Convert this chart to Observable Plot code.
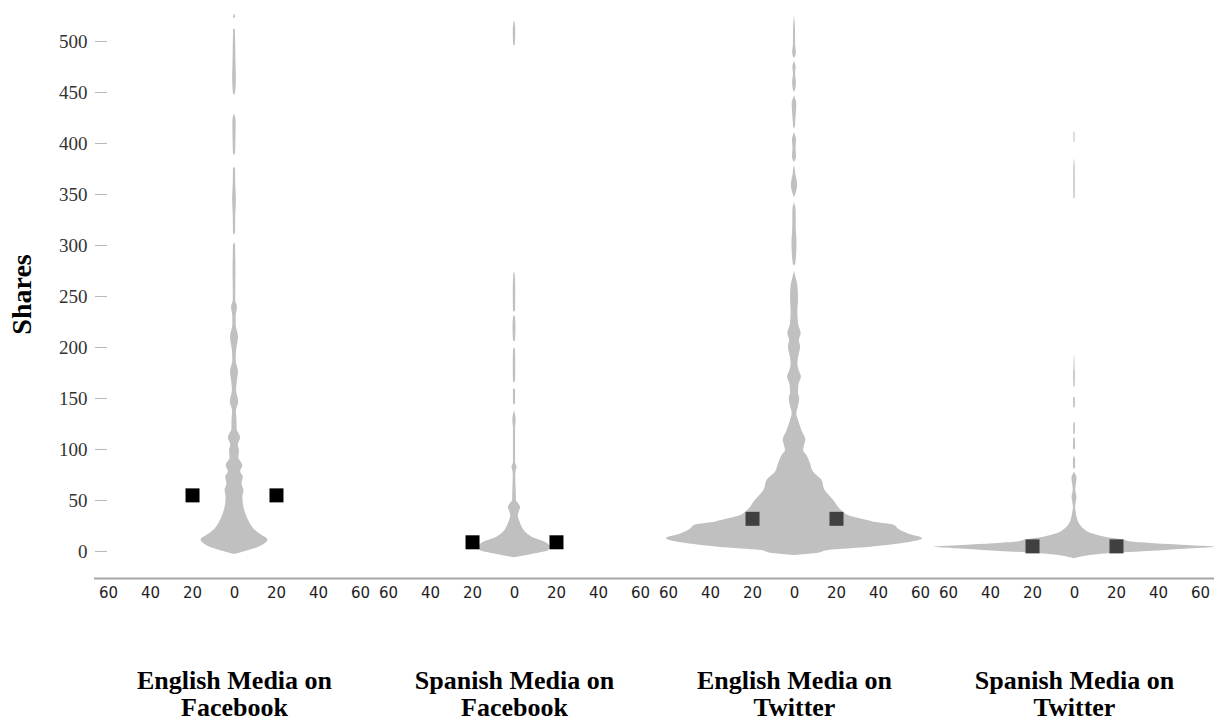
<!DOCTYPE html>
<html>
<head>
<meta charset="utf-8">
<script src="https://cdn.jsdelivr.net/npm/d3@7"></script>
<script src="https://cdn.jsdelivr.net/npm/@observablehq/plot@0.6"></script>
<style>
  html, body { margin: 0; padding: 0; background: #fff; }
  #chart { width: 1222px; height: 721px; overflow: hidden; }
</style>
</head>
<body>
<div id="chart"></div>
<script>
// ---- Data ----
const groups = [
  "English Media on Facebook",
  "Spanish Media on Facebook",
  "English Media on Twitter",
  "Spanish Media on Twitter"
];
const groupLabels = [
  "English Media on\nFacebook",
  "Spanish Media on\nFacebook",
  "English Media on\nTwitter",
  "Spanish Media on\nTwitter"
];
const yTicks = [0, 50, 100, 150, 200, 250, 300, 350, 400, 450, 500];
const xTicks = [-60, -40, -20, 0, 20, 40, 60];
const meanShares = [55, 9, 32, 5];
const squareX = [-20, 20];

// Violin profiles: shares level and half-width (count) at that level
const efShares = [-3,-1,1,4,7.5,11,13,15.7,20.6,27,33.6,43,53,60,66,73,78,84,92,99,104,111.5,120,128,138,146,158,166,176,187,197,210,222,230,239.5,246,260,275,290,300,303,310,312,330,345,360,375,377,388,390,405,420,427,429,447,449,465,480,495,511,513,522,524,527];
const efWidths = [0,3.6,6.9,11.4,14.5,15.9,15.4,13.2,10,7.6,6,4.5,4,4.5,3.6,4.2,2.9,4,2.1,2.4,1.8,2.9,1.2,1.2,0.9,2,1.0,1.3,1.9,0.8,1.0,1.9,0.8,0.8,1.4,0.6,0.6,0.7,0.6,0.5,0,0,0.5,0.6,0.9,0.6,0.5,0,0,0.5,0.7,0.8,0.4,0,0,0.5,0.9,0.7,0.6,0.4,0,0,0.5,0];

const sfShares = [-6.2,-2.3,1,4.2,6,9,14,19,24,30,35,39,43,47,50,60,73,78,82.6,87,100,121,128,135,138,143,145,158,160,165,167,180,197,200,205,207,220,229,232,234,236,255,272,274,495,497,510,518,520];
const sfWidths = [0,10,16.4,17.1,16.6,14.7,8.4,5.2,3.6,2.4,1.8,2.3,2.9,1.9,0.9,0.8,0.6,0.7,1.2,0.5,0.5,0.5,0.8,0.4,0,0,0.5,0.5,0,0,0.5,0.6,0.5,0,0,0.5,0.7,0.5,0,0,0.5,0.6,0.3,0,0,0.4,0.6,0.3,0];

const etShares = [-4,-2,1,4.2,7.5,12.4,17.3,22,25.5,28.8,30,35,40,50,60,70,77.7,86,94,99,104,109,118.6,128,135,143,150,155,163,171,178,184,192,200,207,213.5,223,236,246,259,268,272,275,279,282,302,320,334,340,342,346,350,359,370,376,378,381,383,387,395,403,409,411,414,416,422,439,445,447,450,452,460,468,475,479,481,483,485,489.5,497,504,515,525];
const etWidths = [0,10.4,16.2,36.3,50.9,61,54,49.5,47.8,37.4,35.3,26,22.5,18.7,14.5,13,9.1,7.6,5.9,4.3,4.8,5.4,3.5,2,1.1,2,2.5,1.9,2.1,3.3,2.1,1.6,2.1,2.9,2.3,3.2,1.9,1.6,1.9,1.7,0.8,0.3,0,0,0.6,1.2,0.8,0.8,0.3,0,0,0.6,1.5,0.6,0.3,0,0,0.5,1.0,0.7,1.0,0.3,0,0,0.4,0.6,1.1,0.3,0,0,0.5,0.9,0.5,0.8,0.3,0,0,0.5,0.9,0.5,0.5,0.4,0];

const stShares = [-7.2,-2.3,1,2.6,4.2,5.9,7.5,9.2,11.4,14,17.3,22,27,33.7,38.5,43,48,53,57,61,66,71.5,76,78,80,82,90,94,99,101,110,112,114,116,125,127,140,142,150,152,160,162,175,178,185,190,192,345,347,360,375,383,385,400,402,410,412];
const stWidths = [0,16.3,43.6,56,67,53,38.4,27.5,22.8,14.7,8.4,4.5,2.4,1.2,0.8,0.5,0.8,1.2,0.8,0.6,0.9,1.2,0.5,0,0,0.5,0.5,0,0,0.5,0.4,0,0,0.4,0.4,0,0,0.4,0.4,0,0,0.3,0.4,0.3,0.2,0.15,0,0,0.3,0.35,0.3,0.15,0,0,0.25,0.25,0];

const profileShares = [efShares, sfShares, etShares, stShares];
const profileWidths = [efWidths, sfWidths, etWidths, stWidths];

// ---- Tables built from the arrays ----
const violinRows = groups.flatMap((g, i) =>
  profileShares[i].map((s, j) => ({group: g, shares: s, width: profileWidths[i][j]}))
);
const meanRows = groups.flatMap((g, i) =>
  squareX.map(x => ({group: g, x, shares: meanShares[i]}))
);
const labelOf = new Map(groups.map((g, i) => [g, groupLabels[i]]));

const serif = "'Liberation Serif', 'Times New Roman', serif";
const sans = "'DejaVu Sans', Verdana, sans-serif";

const chart = Plot.plot({
  width: 1222,
  height: 721,
  marginLeft: 94,
  marginRight: 8,
  marginTop: 10,
  marginBottom: 143,
  style: {background: "#fff"},
  fx: {domain: groups, padding: 0},
  x: {domain: [-66.7, 66.7]},
  y: {domain: [-26.5, 530.4]},
  marks: [
    Plot.areaX(violinRows, {
      fx: "group", y: "shares", x1: d => -d.width, x2: "width",
      fill: "#c0c0c0", curve: "monotone-y"
    }),
    Plot.dot(meanRows, {
      fx: "group", x: "x", y: "shares", symbol: "square", r: 7.9,
      fill: d => d.group.endsWith("Twitter") ? "#404040" : "#000"
    }),
    Plot.ruleY([-26.5], {stroke: "#a6a6a6", strokeWidth: 2}),
    Plot.axisY({
      ticks: yTicks, tickSize: 12, dx: 13, tickPadding: 8,
      stroke: "#b8b8b8", fill: "#333", fontSize: 19,
      fontFamily: serif, label: null
    }),
    Plot.axisX({
      ticks: xTicks, tickFormat: d => Math.abs(d), tickSize: 0, tickPadding: 9,
      fontSize: 15, fontFamily: sans, fill: "#222", label: null
    }),
    Plot.axisFx({
      anchor: "bottom", tickSize: 0, tickPadding: 91,
      tickFormat: g => labelOf.get(g),
      fontSize: 26, fontWeight: "bold", fontFamily: serif, fill: "#000",
      lineHeight: 1.05, label: null
    }),
    Plot.text([groups[0]], {
      fx: d => d, text: () => "Shares", frameAnchor: "left", dx: -72, rotate: -90,
      textAnchor: "middle",
      fontSize: 28, fontWeight: "bold", fontFamily: serif, fill: "#000"
    })
  ]
});
document.getElementById("chart").appendChild(chart);
</script>
</body>
</html>
